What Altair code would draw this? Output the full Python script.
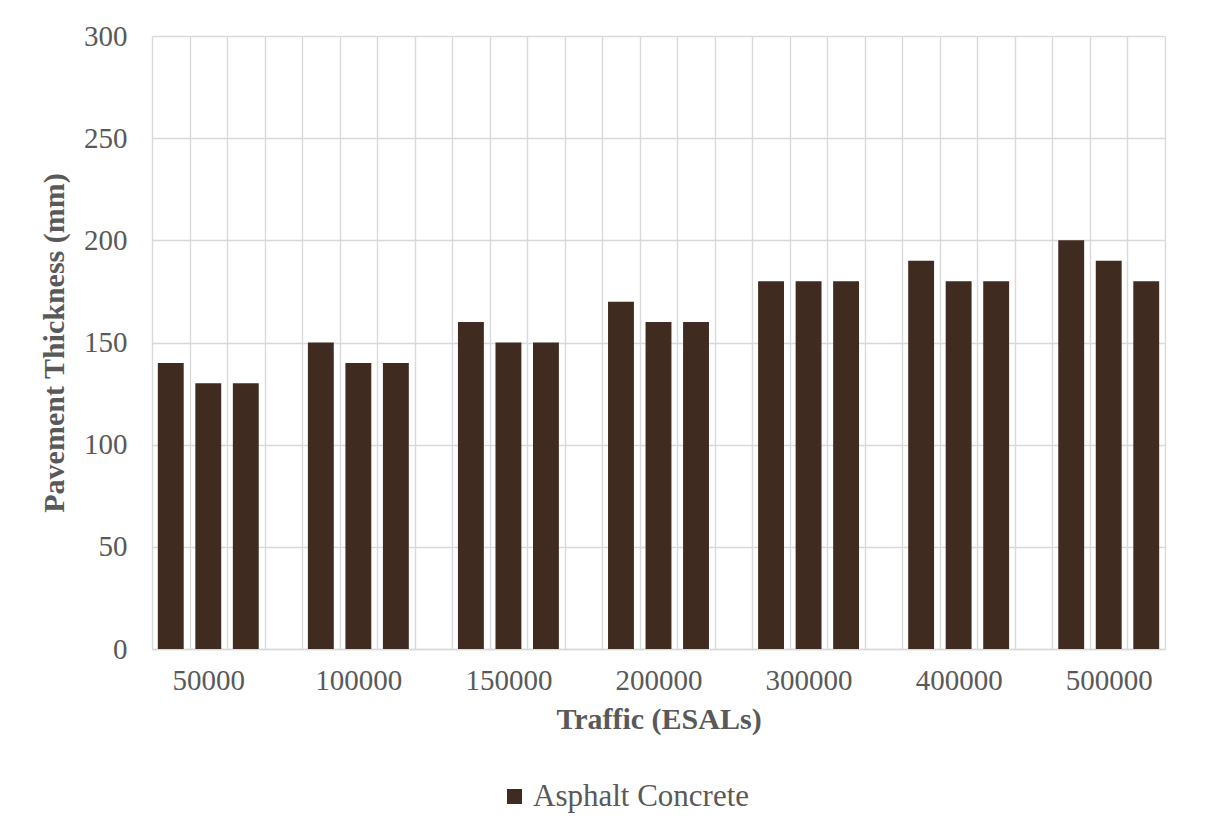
import altair as alt
import pandas as pd

traffic = ["50000", "100000", "150000", "200000", "300000", "400000", "500000"]
bar1 = [140, 150, 160, 170, 180, 190, 200]
bar2 = [130, 140, 150, 160, 180, 180, 190]
bar3 = [130, 140, 150, 160, 180, 180, 180]
series_name = "Asphalt Concrete"
y_ticks = [0, 50, 100, 150, 200, 250, 300]

rows = []
for g, t in enumerate(traffic):
    for j, vals in enumerate([bar1, bar2, bar3]):
        rows.append({"slot": 4 * g + j, "traffic": t, "thickness": vals[g], "series": series_name})
df = pd.DataFrame(rows)
n_slots = 4 * len(traffic) - 1
label_array = "[" + ",".join(f"'{t}'" for t in traffic) + "]"

FONT = "Liberation Serif"
TXT = "#595959"
GRID = "#d9d9d9"

chart = alt.Chart(df).mark_bar(width=alt.RelativeBandSize(0.69)).encode(
    x=alt.X(
        "slot:O",
        scale=alt.Scale(domain=list(range(n_slots)), paddingInner=0, paddingOuter=0),
        axis=alt.Axis(
            title="Traffic (ESALs)",
            tickBand="extent",
            grid=True,
            gridColor=GRID,
            gridWidth=1.4,
            ticks=False,
            labelAngle=0,
            labelExpr=f"datum.value % 4 == 1 ? {label_array}[floor(datum.value / 4)] : ''",
            labelFont=FONT,
            labelFontSize=29,
            labelColor=TXT,
            labelPadding=17,
            titleFont=FONT,
            titleFontSize=30,
            titleFontWeight="bold",
            titleColor=TXT,
            titlePadding=9,
            domainColor=GRID,
            domainWidth=1.4,
        ),
    ),
    y=alt.Y(
        "thickness:Q",
        scale=alt.Scale(domain=[0, 300]),
        axis=alt.Axis(
            title="Pavement Thickness (mm)",
            values=y_ticks,
            grid=True,
            gridColor=GRID,
            gridWidth=1.4,
            ticks=False,
            domain=False,
            labelFont=FONT,
            labelFontSize=29,
            labelColor=TXT,
            labelPadding=25,
            titleFont=FONT,
            titleFontSize=30,
            titleFontWeight="bold",
            titleColor=TXT,
            titlePadding=14,
        ),
    ),
    color=alt.Color(
        "series:N",
        scale=alt.Scale(range=["#3f2b1f"]),
        legend=alt.Legend(
            title=None,
            orient="none",
            legendX=347,
            legendY=745,
            symbolType="square",
            symbolSize=225,
            symbolStrokeWidth=0,
            symbolOpacity=1,
            labelFont=FONT,
            labelFontSize=31,
            labelColor=TXT,
            labelOffset=3,
            labelLimit=0,
            padding=0,
        ),
    ),
).properties(
    width=1013,
    height=613,
    autosize=alt.AutoSizeParams(type="none"),
    padding={"left": 144, "top": 28, "right": 40, "bottom": 177},
).configure_view(stroke=None)

chart.save("out.html", embed_options={"renderer": "svg", "actions": False})
